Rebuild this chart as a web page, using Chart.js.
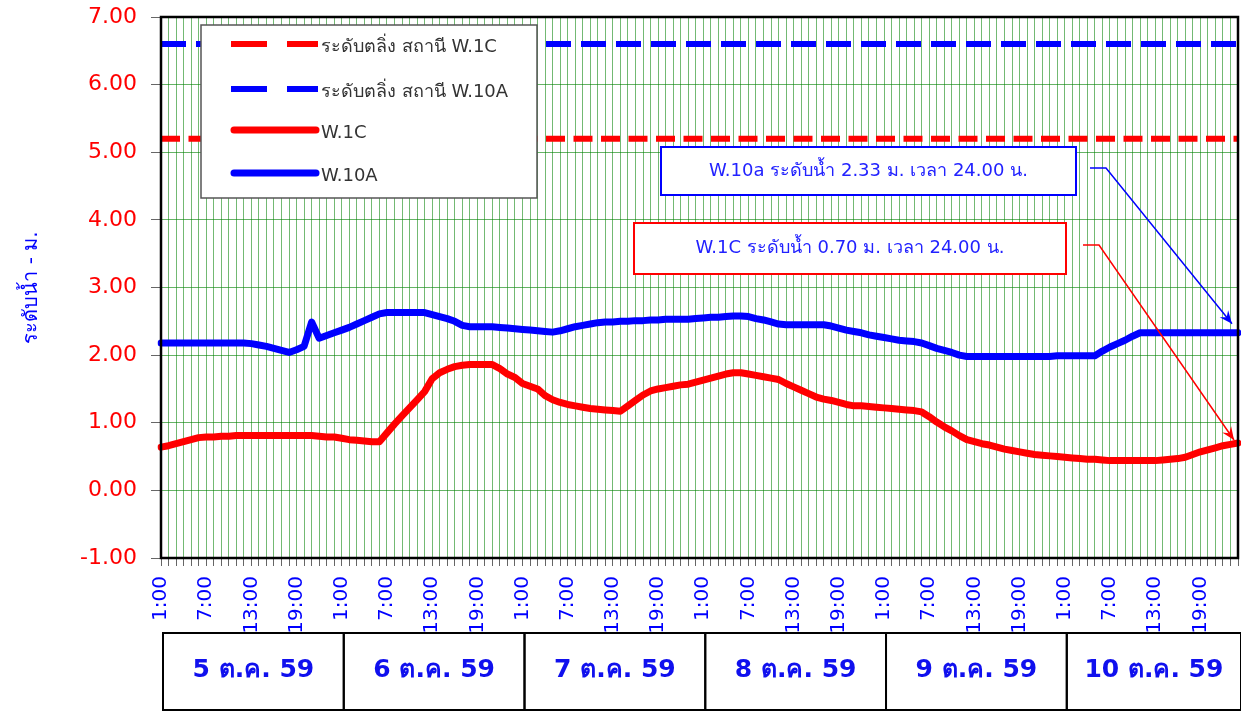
<!DOCTYPE html>
<html>
<head>
<meta charset="utf-8">
<script src="https://cdn.jsdelivr.net/npm/chart.js@4.4.0/dist/chart.umd.min.js"></script>
<style>
  html, body { margin: 0; padding: 0; background: #fff; }
  #wrap { width: 1241px; height: 712px; }
</style>
</head>
<body>
<div id="wrap"><canvas id="levelChart" width="1241" height="712"></canvas></div>
<script>
// Water level chart, W.1C and W.10A, 5-10 Oct 59 (hourly readings)
const days = ['5 ต.ค. 59', '6 ต.ค. 59', '7 ต.ค. 59', '8 ต.ค. 59', '9 ต.ค. 59', '10 ต.ค. 59'];
const shownHours = ['1:00', '7:00', '13:00', '19:00'];

const w1c = [
    0.64, 0.66, 0.69, 0.72, 0.75, 0.78, 0.79, 0.79, 0.80, 0.80, 0.81, 0.81, 0.81, 0.81, 0.81, 0.81, 0.81, 0.81, 0.81, 0.81, 0.81, 0.80, 0.79, 0.79,
    0.77, 0.75, 0.74, 0.73, 0.72, 0.72, 0.85, 0.98, 1.10, 1.22, 1.34, 1.46, 1.65, 1.74, 1.79, 1.83, 1.85, 1.86, 1.86, 1.86, 1.86, 1.80, 1.72, 1.67,
    1.58, 1.54, 1.50, 1.40, 1.34, 1.30, 1.27, 1.25, 1.23, 1.21, 1.20, 1.19, 1.18, 1.17, 1.25, 1.33, 1.41, 1.47, 1.50, 1.52, 1.54, 1.56, 1.57, 1.60,
    1.63, 1.66, 1.69, 1.72, 1.74, 1.74, 1.72, 1.70, 1.68, 1.66, 1.64, 1.58, 1.53, 1.48, 1.43, 1.38, 1.35, 1.33, 1.30, 1.27, 1.25, 1.25, 1.24, 1.23,
    1.22, 1.21, 1.20, 1.19, 1.18, 1.16, 1.09, 1.01, 0.94, 0.88, 0.81, 0.75, 0.72, 0.69, 0.67, 0.64, 0.61, 0.59, 0.57, 0.55, 0.53, 0.52, 0.51, 0.50,
    0.49, 0.48, 0.47, 0.46, 0.46, 0.45, 0.44, 0.44, 0.44, 0.44, 0.44, 0.44, 0.44, 0.45, 0.46, 0.47, 0.49, 0.53, 0.57, 0.60, 0.63, 0.66, 0.68, 0.70
];

const w10a = [
    2.18, 2.18, 2.18, 2.18, 2.18, 2.18, 2.18, 2.18, 2.18, 2.18, 2.18, 2.18, 2.17, 2.15, 2.13, 2.10, 2.07, 2.04, 2.08, 2.13, 2.49, 2.25, 2.29, 2.33,
    2.37, 2.41, 2.46, 2.51, 2.56, 2.61, 2.63, 2.63, 2.63, 2.63, 2.63, 2.63, 2.60, 2.57, 2.54, 2.50, 2.44, 2.42, 2.42, 2.42, 2.42, 2.41, 2.40, 2.39,
    2.38, 2.37, 2.36, 2.35, 2.34, 2.36, 2.39, 2.42, 2.44, 2.46, 2.48, 2.49, 2.49, 2.50, 2.50, 2.51, 2.51, 2.52, 2.52, 2.53, 2.53, 2.53, 2.53, 2.54,
    2.55, 2.56, 2.56, 2.57, 2.58, 2.58, 2.57, 2.54, 2.52, 2.49, 2.46, 2.45, 2.45, 2.45, 2.45, 2.45, 2.45, 2.43, 2.40, 2.37, 2.35, 2.33, 2.30, 2.28,
    2.26, 2.24, 2.22, 2.21, 2.20, 2.18, 2.14, 2.10, 2.07, 2.04, 2.00, 1.98, 1.98, 1.98, 1.98, 1.98, 1.98, 1.98, 1.98, 1.98, 1.98, 1.98, 1.98, 1.99,
    1.99, 1.99, 1.99, 1.99, 1.99, 2.06, 2.12, 2.17, 2.22, 2.28, 2.33, 2.33, 2.33, 2.33, 2.33, 2.33, 2.33, 2.33, 2.33, 2.33, 2.33, 2.33, 2.33, 2.33
];

// bank-full levels (ระดับตลิ่ง)
const bankW1C = 5.20;
const bankW10A = 6.60;

const callouts = [
    { text: 'W.10a ระดับน้ำ 2.33 ม. เวลา 24.00 น.', series: 1 },
    { text: 'W.1C ระดับน้ำ 0.70 ม. เวลา 24.00 น.', series: 0 }
];

// hourly categories 1:00 .. 24:00 for each day
const labels = [];
days.forEach(() => {
    for (let h = 1; h <= 24; h++) labels.push(h + ':00');
});

const FONT = "Tahoma, 'DejaVu Sans', 'Noto Sans', sans-serif";
Chart.defaults.font.family = FONT;

function arrow(ctx, x0, y0, xElbow, tx, ty, color) {
    ctx.strokeStyle = color;
    ctx.fillStyle = color;
    ctx.lineWidth = 1.5;
    ctx.beginPath();
    ctx.moveTo(x0, y0);
    ctx.lineTo(xElbow, y0);
    ctx.lineTo(tx, ty);
    ctx.stroke();
    const ang = Math.atan2(ty - y0, tx - xElbow);
    const len = 14, wing = 0.4;
    ctx.beginPath();
    ctx.moveTo(tx, ty);
    ctx.lineTo(tx - len * Math.cos(ang - wing), ty - len * Math.sin(ang - wing));
    ctx.lineTo(tx - len * 0.6 * Math.cos(ang), ty - len * 0.6 * Math.sin(ang));
    ctx.lineTo(tx - len * Math.cos(ang + wing), ty - len * Math.sin(ang + wing));
    ctx.closePath();
    ctx.fill();
}

const overlay = {
    id: 'overlay',
    afterDatasetsDraw(chart) {
        const { ctx, chartArea: a, scales: { x, y } } = chart;
        const ds = chart.data.datasets;
        ctx.save();

        // plot frame
        ctx.strokeStyle = '#000';
        ctx.lineWidth = 2.5;
        ctx.strokeRect(a.left, a.top, a.right - a.left, a.bottom - a.top);

        // legend box
        ctx.fillStyle = '#fff';
        ctx.fillRect(201, 25, 336, 173);
        ctx.strokeStyle = '#555';
        ctx.lineWidth = 1.5;
        ctx.strokeRect(201, 25, 336, 173);
        const rows = [44, 89, 130, 173];
        ds.forEach((d, i) => {
            const yy = rows[i];
            ctx.strokeStyle = d.borderColor;
            if (d.borderDash && d.borderDash.length) {
                ctx.lineWidth = 6;
                ctx.lineCap = 'butt';
                ctx.beginPath();
                ctx.moveTo(231, yy); ctx.lineTo(267, yy);
                ctx.moveTo(287, yy); ctx.lineTo(318, yy);
                ctx.stroke();
            } else {
                ctx.lineWidth = 7;
                ctx.lineCap = 'round';
                ctx.beginPath();
                ctx.moveTo(234, yy); ctx.lineTo(316, yy);
                ctx.stroke();
            }
            ctx.fillStyle = '#333';
            ctx.font = '18px ' + FONT;
            ctx.textAlign = 'left';
            ctx.textBaseline = 'middle';
            ctx.fillText(d.label, 321, yy + 3);
        });
        ctx.lineCap = 'butt';

        // callout boxes with arrows to the last readings
        const boxes = [
            { x: 661, y: 147, w: 415, h: 48, border: '#0000ff', ax: 1090, ay: 168, elbow: 1106, dx: -6, dy: -9 },
            { x: 634, y: 223, w: 432, h: 51, border: '#ff0000', ax: 1083, ay: 245, elbow: 1099, dx: -4, dy: -3 }
        ];
        callouts.forEach((c, i) => {
            const b = boxes[i];
            ctx.fillStyle = '#fff';
            ctx.fillRect(b.x, b.y, b.w, b.h);
            ctx.strokeStyle = b.border;
            ctx.lineWidth = 2;
            ctx.strokeRect(b.x, b.y, b.w, b.h);
            ctx.fillStyle = '#2222ff';
            ctx.font = '18px ' + FONT;
            ctx.textAlign = 'center';
            ctx.textBaseline = 'middle';
            ctx.fillText(c.text, b.x + b.w / 2, b.y + b.h / 2);
            const series = c.series === 0 ? w1c : w10a;
            const last = series.length - 1;
            const px = x.getPixelForValue(last);
            const py = y.getPixelForValue(series[last]);
            arrow(ctx, b.ax, b.ay, b.elbow, px + b.dx, py + b.dy, b.border);
        });

        // day boxes under the hour labels
        const top = 633, bottom = 710;
        ctx.strokeStyle = '#000';
        ctx.lineWidth = 2;
        days.forEach((d, i) => {
            const x0 = x.getPixelForValue(i * 24) + 2;
            const x1 = Math.min(x.getPixelForValue((i + 1) * 24) + 2, 1241);
            ctx.strokeRect(x0, top, x1 - x0, bottom - top);
            ctx.fillStyle = '#1010ee';
            ctx.font = 'bold 25px ' + FONT;
            ctx.textAlign = 'center';
            ctx.textBaseline = 'middle';
            ctx.fillText(d, (x0 + x1) / 2, 670);
        });

        ctx.restore();
    }
};

new Chart(document.getElementById('levelChart'), {
    type: 'line',
    data: {
        labels: labels,
        datasets: [
            {
                label: 'ระดับตลิ่ง สถานี W.1C',
                data: labels.map(() => bankW1C),
                borderColor: '#ff0000',
                borderWidth: 6,
                borderDash: [19, 8.5],
                pointRadius: 0,
                order: 4
            },
            {
                label: 'ระดับตลิ่ง สถานี W.10A',
                data: labels.map(() => bankW10A),
                borderColor: '#0000ff',
                borderWidth: 6,
                borderDash: [25, 10],
                pointRadius: 0,
                order: 3
            },
            {
                label: 'W.1C',
                data: w1c,
                borderColor: '#ff0000',
                borderWidth: 7,
                borderJoinStyle: 'round',
                borderCapStyle: 'round',
                pointRadius: 0,
                tension: 0,
                order: 2
            },
            {
                label: 'W.10A',
                data: w10a,
                borderColor: '#0000ff',
                borderWidth: 7,
                borderJoinStyle: 'round',
                borderCapStyle: 'round',
                pointRadius: 0,
                tension: 0,
                order: 1
            }
        ]
    },
    options: {
        responsive: false,
        animation: false,
        layout: { padding: { top: 17, right: 3, left: 0, bottom: 0 } },
        plugins: {
            legend: { display: false },
            tooltip: { enabled: false }
        },
        scales: {
            x: {
                offset: false,
                afterFit: (s) => {
                    s.height = 154;
                    s.paddingLeft = 0;
                    s.paddingRight = 0;
                },
                grid: {
                    color: 'rgba(0,128,0,0.55)',
                    lineWidth: 1,
                    tickColor: '#666',
                    tickLength: 8
                },
                border: { display: false },
                ticks: {
                    autoSkip: false,
                    maxRotation: 90,
                    minRotation: 90,
                    padding: 10,
                    color: '#0000ff',
                    font: { size: 20 },
                    callback: function (v, i) {
                        const lab = labels[i];
                        return shownHours.includes(lab) ? lab : '';
                    }
                }
            },
            y: {
                min: -1,
                max: 7,
                afterFit: (s) => {
                    s.width = 161;
                    s.paddingTop = 0;
                    s.paddingBottom = 0;
                },
                grid: {
                    color: 'rgba(0,128,0,0.6)',
                    lineWidth: 1,
                    tickColor: '#666',
                    tickLength: 10
                },
                border: { display: false },
                ticks: {
                    stepSize: 1,
                    padding: 14,
                    color: '#ff0000',
                    font: { size: 22 },
                    callback: (v) => v.toFixed(2)
                },
                title: {
                    display: true,
                    text: 'ระดับน้ำ - ม.',
                    color: '#0000ff',
                    font: { size: 20 },
                    padding: { top: 20, bottom: 0 }
                }
            }
        }
    },
    plugins: [overlay]
});
</script>
</body>
</html>
